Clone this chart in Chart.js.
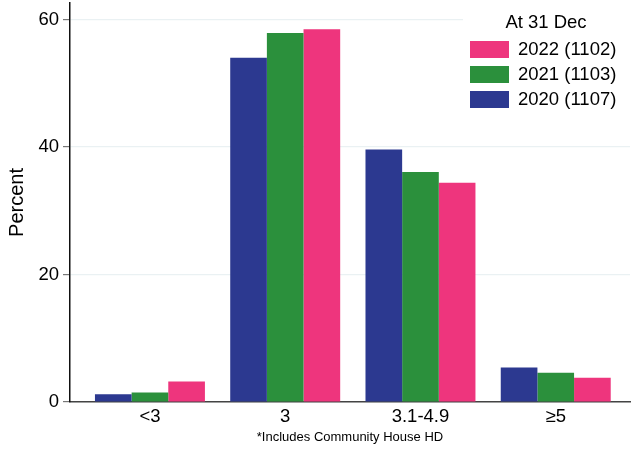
<!DOCTYPE html>
<html>
<head>
<meta charset="utf-8">
<script src="https://cdn.jsdelivr.net/npm/chart.js@4.4.1/dist/chart.umd.min.js"></script>
<style>
  body { margin: 0; background: #fff; }
</style>
</head>
<body>
<canvas id="chart" width="632" height="450"></canvas>
<script>
var categories = ['<3', '3', '3.1-4.9', '≥5'];
var seriesLabels = ['2020 (1107)', '2021 (1103)', '2022 (1102)'];
var pct2020 = [1.2, 54.0, 39.6, 5.4];
var pct2021 = [1.5, 57.9, 36.1, 4.6];
var pct2022 = [3.2, 58.5, 34.4, 3.8];
var yTicks = [0, 20, 40, 60];
var legendTitle = 'At 31 Dec';
var footnote = '*Includes Community House HD';
var colors = ['#2c3990', '#2b903c', '#ee357d'];

var FONT = '"Liberation Sans", Arial, sans-serif';

function points(values) {
  return values.map(function (v, i) { return { x: i + 1, y: v }; });
}

// legend drawn inside the plot, top right, with white background
var legendBox = {
  id: 'legendBox',
  afterDatasetsDraw: function (chart) {
    var ctx = chart.ctx;
    var right = chart.chartArea.right;
    ctx.save();
    ctx.fillStyle = '#fff';
    ctx.fillRect(right - 167, 0, 167, 114);
    ctx.fillStyle = '#000';
    ctx.font = '18.5px ' + FONT;
    ctx.textBaseline = 'middle';
    ctx.textAlign = 'center';
    ctx.fillText(legendTitle, right - 84, 23);
    ctx.textAlign = 'left';
    var ds = chart.data.datasets.slice().reverse();
    ds.forEach(function (d, i) {
      var y = 41 + i * 25;
      ctx.fillStyle = d.backgroundColor;
      ctx.fillRect(right - 160, y, 39, 17);
      ctx.fillStyle = '#000';
      ctx.fillText(d.label, right - 112, y + 9);
    });
    ctx.restore();
  }
};

var ctx = document.getElementById('chart').getContext('2d');
var myChart = new Chart(ctx, {
  type: 'bar',
  data: {
    datasets: [
      { label: seriesLabels[0], data: points(pct2020), backgroundColor: colors[0] },
      { label: seriesLabels[1], data: points(pct2021), backgroundColor: colors[1] },
      { label: seriesLabels[2], data: points(pct2022), backgroundColor: colors[2] }
    ]
  },
  options: {
    responsive: false,
    animation: false,
    layout: { padding: { left: 0, top: 3, right: 2, bottom: 0 } },
    datasets: {
      bar: { categoryPercentage: 0.813, barPercentage: 1.0, borderWidth: 0 }
    },
    scales: {
      x: {
        type: 'linear',
        offset: false,
        min: 0.409,
        max: 4.549,
        afterBuildTicks: function (scale) {
          scale.ticks = categories.map(function (c, i) { return { value: i + 1 }; });
        },
        afterFit: function (scale) {
          scale.height = 48;
          scale.paddingLeft = 0;
          scale.paddingRight = 0;
        },
        grid: { display: false, drawTicks: false },
        border: { display: true, color: '#444', width: 1.5 },
        ticks: {
          autoSkip: false,
          maxRotation: 0,
          padding: 4,
          color: '#000',
          font: { family: FONT, size: 18.5 },
          callback: function (v, i) { return categories[i]; }
        },
        title: {
          display: true,
          text: footnote,
          color: '#000',
          font: { family: FONT, size: 13 },
          padding: { top: 0, bottom: 5 }
        }
      },
      y: {
        min: 0,
        max: 62.6,
        afterBuildTicks: function (scale) {
          scale.ticks = yTicks.map(function (v) { return { value: v }; });
        },
        afterFit: function (scale) {
          scale.width = 70;
          scale.paddingTop = 0;
          scale.paddingBottom = 0;
        },
        grid: { color: '#eaf1f3', tickColor: '#777', tickLength: 7, lineWidth: 1.2 },
        border: { display: true, color: '#111', width: 1.5 },
        ticks: {
          padding: 4,
          color: '#000',
          font: { family: FONT, size: 18.5 }
        },
        title: {
          display: true,
          text: 'Percent',
          color: '#000',
          font: { family: FONT, size: 20 },
          padding: { top: 5, bottom: 0 }
        }
      }
    },
    plugins: {
      legend: { display: false },
      tooltip: { enabled: false }
    }
  },
  plugins: [legendBox]
});
</script>
</body>
</html>
